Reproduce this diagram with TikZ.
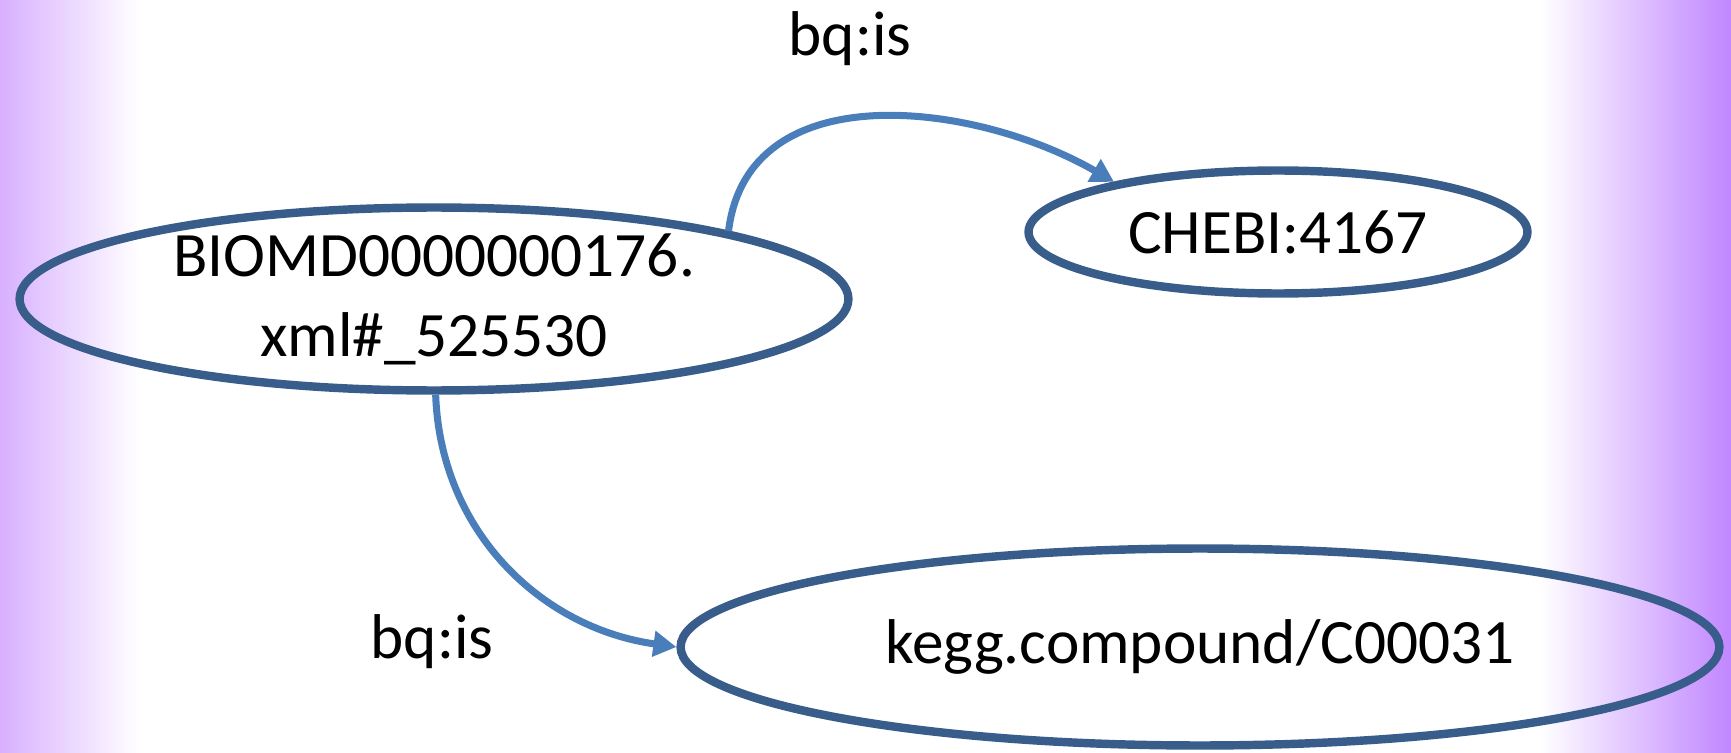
\documentclass[tikz,border=0pt]{standalone}
\usepackage{fontspec}
\setmainfont{Carlito}
\usetikzlibrary{shapes.geometric,arrows.meta}
\definecolor{rimblue}{HTML}{385D8A}
\definecolor{linkblue}{HTML}{4A7EBB}
\definecolor{fadeleft}{HTML}{D8B0FF}
\definecolor{faderight}{HTML}{C186FF}

\begin{document}
\begin{tikzpicture}[x=0.02cm,y=-0.02cm,
  term/.style={ellipse,draw=rimblue,line width=4.8pt,inner sep=0pt},
  txt/.style={font=\fontsize{36}{45.5}\selectfont,align=center},
  link/.style={-{Triangle[length=0.46cm,width=0.5cm]},linkblue,line width=4pt}]
  \useasboundingbox (0,0) rectangle (1731,753);
  % background fade at both sides
  \shade[left color=fadeleft,right color=white] (0,0) rectangle (140,753);
  \shade[left color=white,right color=faderight] (1540,0) rectangle (1731,753);

  % terms
  \node[term,minimum width=16.58cm,minimum height=3.66cm] (bio) at (434,299) {};
  \node[txt] (biotxt) at (bio) {BIOMD0000000176.\\xml\#\_525530};
  \node[term,minimum width=9.98cm,minimum height=2.46cm] (chebi) at (1278,232) {};
  \node[txt] (chebitxt) at (chebi) {CHEBI:4167};
  \node[term,minimum width=20.78cm,minimum height=3.94cm] (kegg) at (1200,647) {};
  \node[txt] (keggtxt) at (kegg) {kegg.compound/C00031};

  % links
  \draw[link] (bio.13) to[out=83,in=150,looseness=1.05] (chebi.163);
  \draw[link] (bio.-89) to[out=-88,in=172] (kegg.west);
  \node[txt] (istop) at (850,39) {bq:is};
  \node[txt] (isbot) at (432,642) {bq:is};
\end{tikzpicture}
\end{document}
